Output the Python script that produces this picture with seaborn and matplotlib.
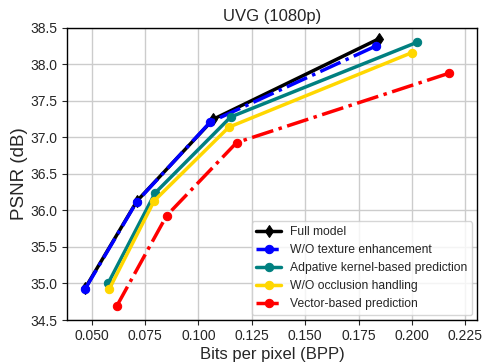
import numpy as np
import pandas as pd
import seaborn as sns
import matplotlib
matplotlib.use("Agg")
import matplotlib.pyplot as plt
from matplotlib.ticker import FormatStrFormatter

series_names = ['Full model', 'W/O texture enhancement', 'Adpative kernel-based prediction',
                'W/O occlusion handling', 'Vector-based prediction']

full_bpp = [0.0470, 0.0712, 0.1070, 0.1845]
full_psnr = [34.94, 36.13, 37.25, 38.35]

notex_bpp = [0.0468, 0.0711, 0.1055, 0.1830]
notex_psnr = [34.92, 36.12, 37.21, 38.25]

kernel_bpp = [0.0578, 0.0797, 0.1151, 0.2022]
kernel_psnr = [35.01, 36.24, 37.28, 38.30]

noocc_bpp = [0.0583, 0.0792, 0.1142, 0.1999]
noocc_psnr = [34.93, 36.13, 37.14, 38.16]

vector_bpp = [0.0617, 0.0851, 0.1179, 0.2175]
vector_psnr = [34.69, 35.93, 36.93, 37.88]

colors = ['black', 'blue', 'teal', 'gold', 'red']
styles = ['-', '-.', '-', '-', '-.']
markers = ['d', 'o', 'o', 'o', 'o']

sns.set_style('ticks')
plt.rcParams['font.family'] = ['Liberation Sans', 'DejaVu Sans']

fig = plt.figure(figsize=(4.84, 3.62), dpi=100)
ax = fig.add_axes([0.138, 0.116, 0.848, 0.807])

data = [(full_bpp, full_psnr), (notex_bpp, notex_psnr), (kernel_bpp, kernel_psnr),
        (noocc_bpp, noocc_psnr), (vector_bpp, vector_psnr)]

for name, (bx, py), c, ls, m in zip(series_names, data, colors, styles, markers):
    df = pd.DataFrame({'bpp': bx, 'psnr': py})
    sns.lineplot(data=df, x='bpp', y='psnr', ax=ax, color=c, linestyle=ls,
                 marker=m, markersize=6, markeredgecolor=c, linewidth=2.5,
                 label=name, sort=False)

ax.set_xlim(0.0383, 0.2306)
ax.set_ylim(34.5, 38.5)
ax.set_xticks(np.arange(0.05, 0.226, 0.025))
ax.set_yticks(np.arange(34.5, 38.51, 0.5))
ax.xaxis.set_major_formatter(FormatStrFormatter('%.3f'))
ax.yaxis.set_major_formatter(FormatStrFormatter('%.1f'))
ax.grid(True, color='#cccccc', linewidth=1)
ax.tick_params(labelsize=10, length=3.5, pad=3)
for sp in ax.spines.values():
    sp.set_color('black')
    sp.set_linewidth(1)

ax.set_title('UVG (1080p)', fontsize=12, pad=5)
ax.set_xlabel('Bits per pixel (BPP)', fontsize=12, labelpad=3)
ax.set_ylabel('PSNR (dB)', fontsize=13.5, labelpad=2)
ax.legend(loc='lower right', fontsize=8.7, frameon=True, borderaxespad=0.4)

fig.savefig('out.png', dpi=100)
